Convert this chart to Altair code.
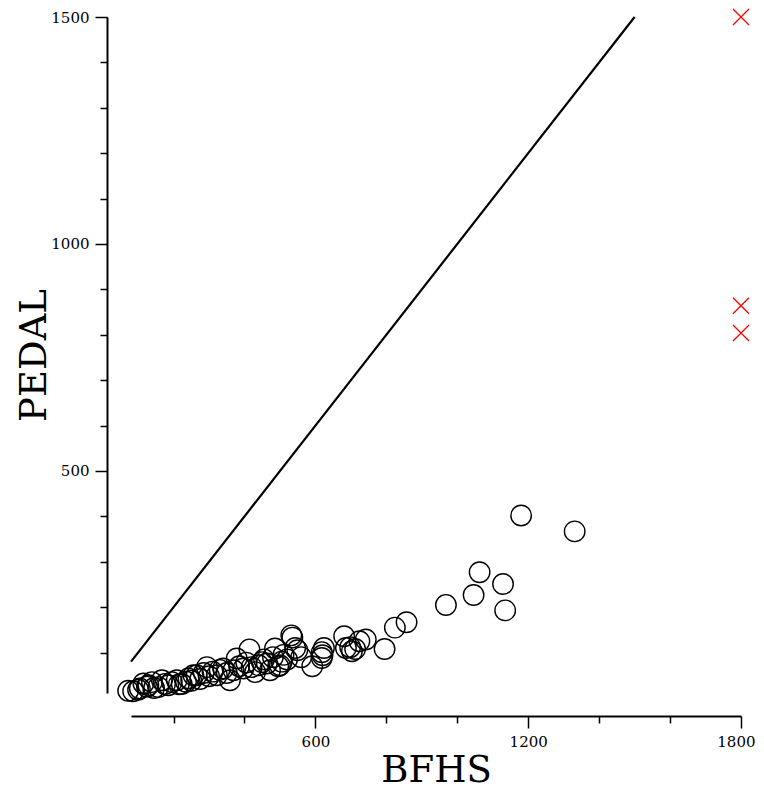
import altair as alt
import pandas as pd

# circles: BFHS (x) vs PEDAL (y)
bfhs = [72, 86, 100, 105, 115, 125, 129, 139, 145, 157, 167, 176, 185, 195, 209, 215,
        223, 235, 242, 250, 256, 265, 275, 285, 294, 300, 310, 322, 330, 340, 350, 359,
        369, 378, 385, 397, 405, 414, 420, 430, 440, 449, 455, 463, 472, 480, 486, 495,
        500, 505, 510, 520, 532, 535, 543, 549, 560, 591, 618, 620, 618, 624, 681, 686,
        698, 703, 712, 724, 742, 795, 824, 857, 968, 1046, 1063, 1129, 1135, 1180, 1331]
pedal = [16, 15, 18, 21, 32, 25, 28, 35, 22, 24, 39, 31, 28, 35, 39, 30,
         31, 36, 43, 38, 50, 50, 42, 55, 68, 48, 58, 50, 62, 65, 55, 39,
         61, 87, 70, 65, 78, 107, 68, 57, 72, 79, 85, 76, 61, 90, 109, 70,
         72, 80, 95, 85, 138, 133, 110, 105, 90, 70, 88, 94, 101, 110, 136, 110,
         112, 103, 108, 125, 129, 108, 155, 167, 205, 227, 277, 251, 193, 402, 367]

# off-scale points drawn at the right edge
out_x = [1800, 1800, 1800]
out_y = [1500, 864, 804]

# identity reference line
line_v = [80, 1500]

x_ticks = list(range(200, 1801, 200))
y_ticks = list(range(100, 1501, 100))

FONT = "DejaVu Serif"

pts = pd.DataFrame({"BFHS": bfhs, "PEDAL": pedal})
outs = pd.DataFrame({"BFHS": out_x, "PEDAL": out_y})
ref = pd.DataFrame({"BFHS": line_v, "PEDAL": line_v})

xscale = alt.Scale(domain=[80, 1800], nice=False, zero=False)
yscale = alt.Scale(domain=[11, 1500], nice=False, zero=False)

xaxis = alt.Axis(
    values=x_ticks, format="d", title="BFHS",
    labelExpr="datum.value % 600 === 0 ? datum.label : ''",
    tickSize={"condition": {"test": "datum.value % 600 === 0", "value": 12}, "value": 7},
    offset=23, grid=False, domainColor="black", domainWidth=2,
    tickColor="black", tickWidth=1.5, labelColor="black",
    labelFlush=True, labelFlushOffset=14,
    labelFont=FONT, labelFontSize=15, labelPadding=6,
    titleFont=FONT, titleFontSize=37, titleFontWeight="normal", titleColor="black",
    titlePadding=3,
)
yaxis = alt.Axis(
    values=y_ticks, format="d", title="PEDAL",
    labelExpr="datum.value % 500 === 0 ? datum.label : ''",
    tickSize={"condition": {"test": "datum.value % 500 === 0", "value": 12}, "value": 7},
    offset=24, grid=False, domainColor="black", domainWidth=2,
    tickColor="black", tickWidth=1.5, labelColor="black", labelFlush=False,
    labelFont=FONT, labelFontSize=15, labelPadding=6,
    titleFont=FONT, titleFontSize=37, titleFontWeight="normal", titleColor="black",
    titlePadding=-3,
)

base_x = alt.X("BFHS:Q", scale=xscale, axis=xaxis)
base_y = alt.Y("PEDAL:Q", scale=yscale, axis=yaxis)

line = alt.Chart(ref).mark_line(color="black", strokeWidth=2.2, clip=False).encode(
    x=base_x, y=base_y
)
circles = alt.Chart(pts).mark_point(
    shape="circle", filled=False, size=420, color="black", strokeWidth=1.4,
    opacity=1, clip=False
).encode(x=base_x, y=base_y)
crosses = alt.Chart(outs).mark_point(
    shape="M-1,-1L1,1M1,-1L-1,1", filled=False, size=256, color="red",
    strokeWidth=1.3, opacity=1, clip=False
).encode(x=base_x, y=base_y)

chart = alt.layer(line, circles, crosses).properties(
    width=610, height=676,
    autosize=alt.AutoSizeParams(type="none"),
    padding={"left": 123, "top": 9, "right": 15, "bottom": 100},
    background="white",
).configure_view(stroke=None)

chart.save("out.html", embed_options={"renderer": "svg", "actions": False})
